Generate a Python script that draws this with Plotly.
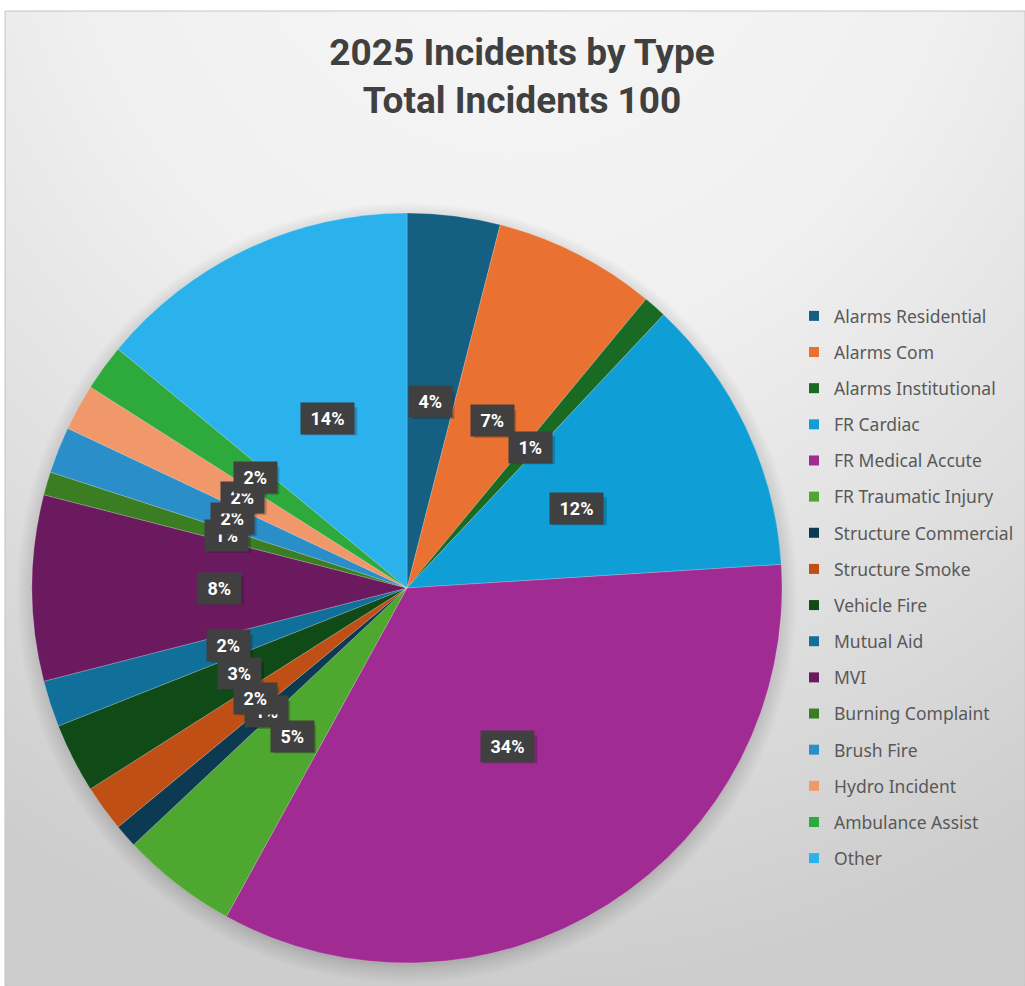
import math
import plotly.graph_objects as go

# ---------------- data ----------------
categories = [
    "Alarms Residential", "Alarms Com", "Alarms Institutional", "FR Cardiac",
    "FR Medical Accute", "FR Traumatic Injury", "Structure Commercial",
    "Structure Smoke", "Vehicle Fire", "Mutual Aid", "MVI", "Burning Complaint",
    "Brush Fire", "Hydro Incident", "Ambulance Assist", "Other",
]
incidents = [4, 7, 1, 12, 34, 5, 1, 2, 3, 2, 8, 1, 2, 2, 2, 14]
colors = [
    "#156082", "#E97132", "#196B24", "#0F9ED5", "#A02B93", "#4EA72E",
    "#0B3A52", "#C04F15", "#0F4A17", "#10709A", "#6B1A60", "#3A7D22",
    "#2A8FC9", "#F0986A", "#2EAA3C", "#2BB1EC",
]
title_lines = ["2025 Incidents by Type", "Total Incidents 100"]

# ---------------- layout geometry (pixels) ----------------
W, H = 1025, 986
CX, CY, R = 407, 588, 375          # pie centre / radius
PX0, PY0 = 5, 11                   # chart panel top-left corner
PW, PH = W - PX0, H - PY0


def to_data(px, py):
    """pixel -> data coords of the hidden background axes"""
    return (px - PX0) / PW, (H - py) / PH


fig = go.Figure()

# background panel: soft radial gradient, light at the top, darker at the bottom
fig.add_trace(go.Scatter(
    x=[-0.5, 1.5, 1.5, -0.5, -0.5], y=[0, 0, 2.4, 2.4, 0],
    fill="toself", mode="lines", line=dict(width=0),
    fillgradient=dict(type="radial",
                      colorscale=[[0, "#f8f8f8"], [0.45, "#f0f0f0"], [0.75, "#dedede"],
                                  [1, "#cdcdcd"]]),
    hoverinfo="skip", showlegend=False,
))

# soft shadow behind the pie
RS = R + 16
ang = [2 * math.pi * i / 180 for i in range(181)]
sh = [to_data(CX + RS * math.cos(a), CY + 5 + RS * math.sin(a)) for a in ang]
fig.add_trace(go.Scatter(
    x=[p[0] for p in sh], y=[p[1] for p in sh],
    fill="toself", mode="lines", line=dict(width=0),
    fillgradient=dict(type="radial",
                      colorscale=[[0, "rgba(0,0,0,0.25)"], [(R - 8) / RS, "rgba(0,0,0,0.22)"],
                                  [R / RS, "rgba(0,0,0,0.12)"], [1, "rgba(0,0,0,0)"]]),
    hoverinfo="skip", showlegend=False,
))

fig.add_trace(go.Pie(
    labels=categories, values=incidents, sort=False, direction="clockwise",
    rotation=0, marker=dict(colors=colors, line=dict(width=0.6, color="rgba(255,255,255,0.35)")),
    textinfo="none", showlegend=False,
    domain=dict(x=[(CX - R) / W, (CX + R) / W], y=[1 - (CY + R) / H, 1 - (CY - R) / H]),
))

# legend entries
for lab, col in zip(categories, colors):
    fig.add_trace(go.Scatter(
        x=[None], y=[None], mode="markers", name=lab, legendgroup=lab,
        marker=dict(symbol="square", size=10, color=col), showlegend=True,
    ))

# data labels (dark boxes) at half radius along each slice's mid angle
total = sum(incidents)
label_pos = []
cum = 0
for v in incidents:
    mid = (cum + v / 2) / total * 2 * math.pi
    cum += v
    label_pos.append((CX + 0.5 * R * math.sin(mid), CY - 0.5 * R * math.cos(mid)))

# smaller slices' labels are drawn first (underneath), as in the original
order = sorted(range(len(incidents)), key=lambda i: (incidents[i], i))
annotations = []
shadow_shapes = []
lab_font = dict(family="Roboto", size=18, weight="bold", color="white")
for i in order:
    px, py = label_pos[i]
    pct = f"{round(100 * incidents[i] / total)}%"
    ax, ay = px / W, 1 - py / H
    bw, bh = 18 + 12 * len(pct), 28
    shadow_shapes.append(dict(
        type="rect", xref="paper", yref="paper", xsizemode="pixel", ysizemode="pixel",
        xanchor=ax, yanchor=ay, x0=-bw / 2 + 3, x1=bw / 2 + 3, y0=-bh / 2 - 3, y1=bh / 2 - 3,
        fillcolor="rgba(0,0,0,0.2)", line=dict(width=0), layer="above"))
    annotations.append(dict(x=ax, y=ay, xref="paper", yref="paper",
                            xanchor="center", yanchor="middle", showarrow=False,
                            text=f"&nbsp;{pct}&nbsp;", borderpad=5,
                            bgcolor="#404040", font=lab_font))

fig.update_layout(
    width=W, height=H, margin=dict(l=0, r=0, t=0, b=0),
    paper_bgcolor="white", plot_bgcolor="rgba(0,0,0,0)",
    xaxis=dict(visible=False, range=[0, 1], domain=[PX0 / W, 1], fixedrange=True),
    yaxis=dict(visible=False, range=[0, 1], domain=[0, 1 - PY0 / H], fixedrange=True),
    title=dict(text="<br>".join(title_lines), x=522 / W, xanchor="center",
               y=1 - 64.5 / H, yanchor="middle",
               font=dict(family="Roboto", size=37, color="#404040", weight="bold")),
    legend=dict(x=794 / W, xanchor="left", y=1 - 298 / H, yanchor="top",
                bgcolor="rgba(0,0,0,0)",
                font=dict(family="Noto Sans", size=17.5, color="#595959"),
                traceorder="grouped", tracegroupgap=10.4, itemclick=False, itemdoubleclick=False),
    annotations=annotations,
    shapes=[
        dict(type="rect", xref="paper", yref="paper", x0=PX0 / W, x1=1,
             y0=0, y1=1 - PY0 / H, line=dict(color="#c4c4c4", width=1)),
        dict(type="rect", xref="paper", yref="paper", x0=806 / W, x1=1,
             y0=1 - 877 / H, y1=1 - 300 / H, line=dict(width=0),
             fillcolor="rgba(255,255,255,0.35)", layer="below"),
    ] + shadow_shapes,
)

fig.write_html("out.html", config={"displayModeBar": False},
               post_script="document.body.style.margin='0px';")
